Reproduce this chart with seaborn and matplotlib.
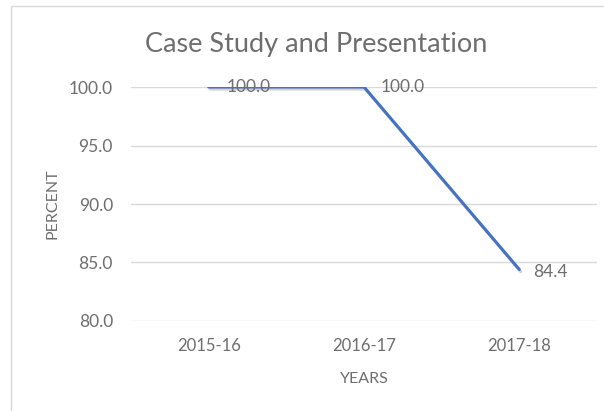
import matplotlib
matplotlib.use("Agg")
import matplotlib.pyplot as plt
import matplotlib.patheffects as pe
from matplotlib.patches import Rectangle
import seaborn as sns
import pandas as pd

years = ["2015-16", "2016-17", "2017-18"]
percent = [100.0, 100.0, 84.4]
yticks = [80.0, 85.0, 90.0, 95.0, 100.0]

sns.set_theme(style="white")
plt.rcParams['font.family'] = ['Lato', 'DejaVu Sans']

GRAY = "#6E6E6E"
BLUE = "#4472C4"

fig = plt.figure(figsize=(6.04, 4.11), dpi=100)
fig.patch.set_facecolor("white")
W, H = 604, 411
# chart border (cropped on right and bottom)
fig.patches.append(Rectangle((11 / W, -0.05), 1.2, 1 - 6 / H + 0.05,
                             transform=fig.transFigure, fill=False,
                             edgecolor="#D9D9D9", linewidth=1.0))

ax = fig.add_axes([131 / W, 1 - 321 / H, (597 - 131) / W, (321 - 87) / H])
df = pd.DataFrame({"YEARS": years, "PERCENT": percent})
sns.lineplot(data=df, x="YEARS", y="PERCENT", ax=ax, color=BLUE, linewidth=2.2,
             sort=False,
             path_effects=[pe.SimpleLineShadow(offset=(1, -1.5), shadow_color="gray", alpha=0.35),
                           pe.Normal()])

ax.set_xlim(-0.5, 2.5)
ax.set_ylim(80, 100)
ax.set_yticks(yticks)
ax.set_yticklabels([f"{v:.1f}" for v in yticks])
ax.yaxis.grid(True, color="#D9D9D9", linewidth=1.0)
ax.xaxis.grid(False)
for s in ax.spines.values():
    s.set_visible(False)
ax.tick_params(axis="y", length=0, pad=13, labelsize=12.5, labelcolor=GRAY)
ax.tick_params(axis="x", length=0, pad=12, labelsize=12, labelcolor=GRAY)
ax.set_axisbelow(True)

ax.set_xlabel("YEARS", fontsize=11.5, color=GRAY, labelpad=13)
ax.set_ylabel("PERCENT", fontsize=11.5, color=GRAY, labelpad=7)

offsets = [(13, 0), (12, 0), (10, -2)]
for i, (x, y) in enumerate(zip(years, percent)):
    ax.annotate(f"{y:.1f}", (i, y), xytext=offsets[i], textcoords="offset points",
                ha="left", va="center", fontsize=12.5, color=GRAY)

fig.text(316.5 / W, 1 - 52 / H, "Case Study and Presentation", ha="center", va="baseline",
         fontsize=19.5, color=GRAY)

fig.savefig("out.png", dpi=100)
